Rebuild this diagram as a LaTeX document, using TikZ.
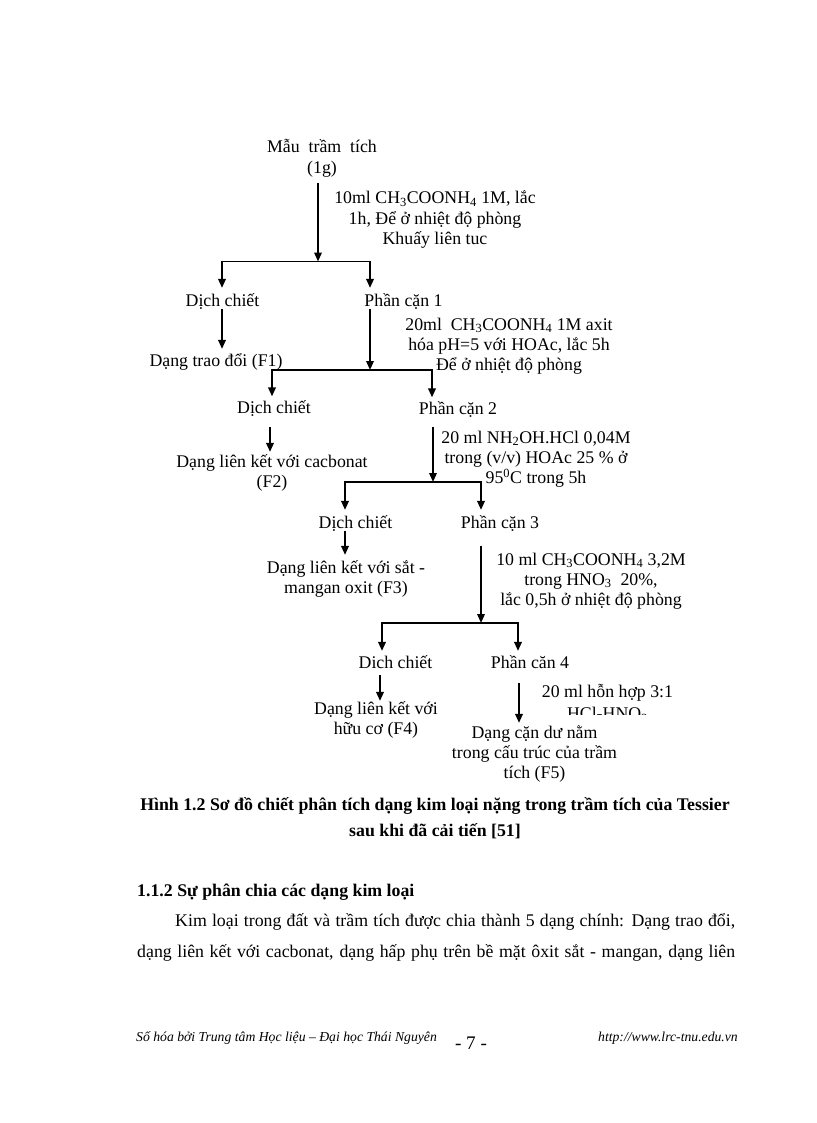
\documentclass[tikz,border=0pt]{standalone}
\usepackage{fontspec}
\setmainfont{Liberation Serif}
\usetikzlibrary{arrows.meta}
\lineskiplimit=-100pt
\lineskip=0pt
\begin{document}
\begin{tikzpicture}[x=1pt,y=-1pt,
  every node/.style={inner sep=0pt},
  txt/.style={font=\fontsize{17.8}{20.4}\selectfont, align=center, anchor=base},
  arr/.style={line width=1.8pt, -{Triangle[length=9pt,width=7.5pt]}},
  fork/.style={line width=1.8pt, line join=miter, {Triangle[length=9pt,width=7.5pt]}-{Triangle[length=9pt,width=7.5pt]}},
  capt/.style={font=\fontsize{17.8}{20.4}\selectfont\bfseries, anchor=base},
  body/.style={font=\fontsize{17.8}{20.4}\selectfont, anchor=base west},
  foot/.style={font=\fontsize{13.7}{16}\selectfont\itshape}]
\useasboundingbox[fill=white] (0,0) rectangle (816,1123);

% junction coordinates
\coordinate (j1) at (318,261.5); \coordinate (l1) at (222,261.5); \coordinate (r1) at (370,261.5);
\coordinate (j2) at (370,370);   \coordinate (l2) at (272,370);   \coordinate (r2) at (432,370);
\coordinate (j3) at (433,482);   \coordinate (l3) at (345,482);   \coordinate (r3) at (481,482);
\coordinate (j4) at (481,623);   \coordinate (l4) at (382,623);   \coordinate (r4) at (518,623);

% nodes (multi-line nodes: base = baseline of last line)
\node[txt] (n0) at (322,173.4) {Mẫu~~trầm~~tích\\(1g)};
\node[txt] (c1) at (435,244.8) {10ml CH\textsubscript{3}COONH\textsubscript{4} 1M, lắc\\1h, Để ở nhiệt độ phòng\\Khuấy liên tuc};
\node[txt] (d1) at (222.5,306) {Dịch chiết};
\node[txt] (p1) at (403.5,306) {Phần cặn 1};
\node[txt] (f1) at (216,366) {Dạng trao đổi (F1)};
\node[txt] (c2) at (509,370.8) {20ml~~CH\textsubscript{3}COONH\textsubscript{4} 1M axit\\hóa pH=5 với HOAc, lắc 5h\\Để ở nhiệt độ phòng};
\node[txt] (d2) at (274,413) {Dịch chiết};
\node[txt] (p2) at (458,414) {Phần cặn 2};
\node[txt] (f2) at (272,487.4) {Dạng liên kết với cacbonat\\(F2)};
\node[txt] (c3) at (536,483.8) {20 ml NH\textsubscript{2}OH.HCl 0,04M\\trong (v/v) HOAc 25 \% ở\\95\textsuperscript{0}C trong 5h};
\node[txt] (d3) at (355.5,528) {Dịch chiết};
\node[txt] (p3) at (500,528) {Phần cặn 3};
\node[txt] (f3) at (346,593.4) {Dạng liên kết với sắt -\\mangan oxit (F3)};
\node[txt] (c4) at (591,605.8) {10 ml CH\textsubscript{3}COONH\textsubscript{4} 3,2M\\trong HNO\textsubscript{3}~~20\%,\\lắc 0,5h ở nhiệt độ phòng};
\node[txt] (d4) at (395.5,668) {Dich chiết};
\node[txt] (p4) at (530,668) {Phần căn 4};
\node[txt] (f4) at (376,734.4) {Dạng liên kết với\\hữu cơ (F4)};
\begin{scope}
  \clip (0,0) rectangle (816,714.5);
  \node[txt, font=\fontsize{17.8}{22}\selectfont] (c5) at (607.5,719.5) {20 ml hỗn hợp 3:1\\HCl-HNO\textsubscript{3}};
\end{scope}
\node[txt] (f5) at (534.5,778.8) {Dạng cặn dư nằm\\trong cấu trúc của trầm\\tích (F5)};

% connectors
\draw[arr, shorten <=6pt] (j1 |- n0.south) -- (j1);
\draw[fork, shorten <=5pt, shorten >=5pt] (l1 |- d1.north) -- (l1) -- (r1) -- (r1 |- p1.north);
\draw[arr, shorten >=4pt] (l1 |- d1.south) -- (l1 |- f1.north);
\draw[arr] (j2 |- p1.south) -- (j2);
\draw[fork, shorten <=3.5pt, shorten >=3.5pt] (l2 |- d2.north) -- (l2) -- (r2) -- (r2 |- p2.north);
\draw[arr, shorten <=11pt, shorten >=2pt] ([xshift=-2pt]l2 |- d2.south) -- ([xshift=-2pt]l2 |- f2.north);
\draw[arr, shorten <=10pt] (j3 |- p2.south) -- (j3);
\draw[fork, shorten <=5pt, shorten >=5pt] (l3 |- d3.north) -- (l3) -- (r3) -- (r3 |- p3.north);
\draw[arr, shorten >=5pt] (l3 |- d3.south) -- (l3 |- f3.north);
\draw[arr, shorten <=15pt] (j4 |- p3.south) -- (j4);
\draw[fork, shorten <=4pt, shorten >=4pt] (l4 |- d4.north) -- (l4) -- (r4) -- (r4 |- p4.north);
\draw[arr, shorten <=7pt] ([xshift=-2pt]l4 |- d4.south) -- ([xshift=-2pt]l4 |- f4.north);
\draw[arr, shorten <=15pt, shorten >=2pt] ([xshift=1pt]r4 |- p4.south) -- ([xshift=1pt]r4 |- f5.north);

% caption and text
\node[capt] (cap1) at (435,810) {Hình 1.2 Sơ đồ chiết phân tích dạng kim loại nặng trong trầm tích của Tessier};
\node[capt] (cap2) at (435,836) {sau khi đã cải tiến [51]};
\node[capt, anchor=base west] (sec) at (137,896) {1.1.2 Sự phân chia các dạng kim loại};
\node[body] (bl1) at (175,926) {\makebox[560pt][s]{Kim loại trong đất và trầm tích được chia thành 5 dạng chính: Dạng trao đổi,}};
\node[body] (bl2) at (137,957) {\makebox[598pt][s]{dạng liên kết với cacbonat, dạng hấp phụ trên bề mặt ôxit sắt - mangan, dạng liên}};

% footer
\node[foot, anchor=base west] (ftl) at (136,1041) {Số hóa bởi Trung tâm Học liệu – Đại học Thái Nguyên};
\node[font=\fontsize{19.2}{22}\selectfont, anchor=base] (pg) at (471,1049) {- 7 -};
\node[foot, anchor=base east] (ftr) at (738,1041) {http://www.lrc-tnu.edu.vn};
\end{tikzpicture}
\end{document}
